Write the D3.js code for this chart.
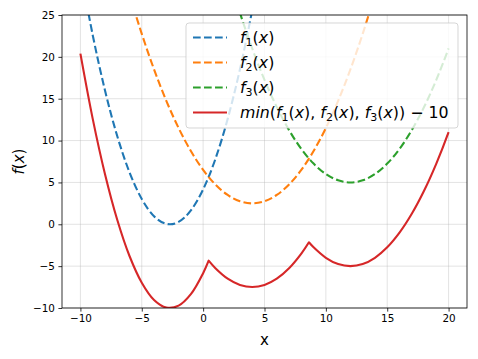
<!DOCTYPE html>
<html>
<head>
<meta charset="utf-8">
<style>
  body { margin: 0; background: #fff; }
  text { font-family: "DejaVu Sans", sans-serif; }
</style>
</head>
<body>
<svg width="478" height="359"></svg>
<script src="https://d3js.org/d3.v7.min.js"></script>
<script>
// values, one per integer x
var xs = [-10, -9, -8, -7, -6, -5, -4, -3, -2, -1, 0, 1, 2, 3, 4, 5, 6, 7, 8, 9,
          10, 11, 12, 13, 14, 15, 16, 17, 18, 19, 20];
var f1 = [30.38, 22.62, 16.01, 10.54, 6.21, 3.02, 0.96, 0.05, 0.28, 1.65, 4.16,
          7.80, 12.59, 18.52, 25.59, 33.80, 43.14, 53.63, 65.26, 78.03, 91.94,
          106.98, 123.17, 140.50, 158.97, 178.58, 199.32, 221.21, 244.24, 268.41, 293.72];
var f2 = [51.5, 44.75, 38.5, 32.75, 27.5, 22.75, 18.5, 14.75, 11.5, 8.75, 6.5,
          4.75, 3.5, 2.75, 2.5, 2.75, 3.5, 4.75, 6.5, 8.75, 11.5,
          14.75, 18.5, 22.75, 27.5, 32.75, 38.5, 44.75, 51.5, 58.75, 66.5];
var f3 = [126, 115.25, 105, 95.25, 86, 77.25, 69, 61.25, 54, 47.25, 41,
          35.25, 30, 25.25, 21, 17.25, 14, 11.25, 9, 7.25, 6,
          5.25, 5, 5.25, 6, 7.25, 9, 11.25, 14, 17.25, 21];
// min(...) - 10, with the two corner points added
var minX = [-10, -9, -8, -7, -6, -5, -4, -3, -2, -1, 0, 0.45, 1, 2, 3, 4, 5, 6, 7, 8, 8.62,
            9, 10, 11, 12, 13, 14, 15, 16, 17, 18, 19, 20];
var minY = [20.38, 12.62, 6.01, 0.54, -3.79, -6.98, -9.04, -9.95, -9.72, -8.35, -5.84, -4.35,
            -5.25, -6.5, -7.25, -7.5, -7.25, -6.5, -5.25, -3.5, -2.15,
            -2.75, -4, -4.75, -5, -4.75, -4, -2.75, -1, 1.25, 4, 7.25, 11];
var corners = [0.45, 8.62];
var xTicks = [-10, -5, 0, 5, 10, 15, 20];
var yTicks = [-10, -5, 0, 5, 10, 15, 20, 25];

var svg = d3.select('svg');
var W = 478, H = 359;
var m = {left: 62, right: 11, top: 15, bottom: 51};

var x = d3.scaleLinear().domain([-11.5, 21.5]).range([m.left, W - m.right]);
var y = d3.scaleLinear().domain([-10, 25]).range([H - m.bottom, m.top]);

svg.append('defs').append('clipPath').attr('id', 'clip')
  .append('rect')
  .attr('x', m.left).attr('y', m.top)
  .attr('width', W - m.left - m.right).attr('height', H - m.top - m.bottom);

// grid
var grid = svg.append('g').attr('stroke', '#b0b0b0').attr('stroke-opacity', 0.35).attr('stroke-width', 1);
grid.selectAll('.gx').data(xTicks).enter().append('line')
  .attr('x1', d => x(d)).attr('x2', d => x(d))
  .attr('y1', m.top).attr('y2', H - m.bottom);
grid.selectAll('.gy').data(yTicks).enter().append('line')
  .attr('y1', d => y(d)).attr('y2', d => y(d))
  .attr('x1', m.left).attr('x2', W - m.right);

var curve = d3.curveCatmullRom.alpha(0);
var line = d3.line().x(d => x(d[0])).y(d => y(d[1])).curve(curve);

var plot = svg.append('g').attr('clip-path', 'url(#clip)');

var series = [
  {vals: f1, color: '#1f77b4'},
  {vals: f2, color: '#ff7f0e'},
  {vals: f3, color: '#2ca02c'}
];
series.forEach(function(s) {
  plot.append('path')
    .attr('d', line(xs.map((v, i) => [v, s.vals[i]])))
    .attr('fill', 'none')
    .attr('stroke', s.color)
    .attr('stroke-width', 2.1)
    .attr('stroke-dasharray', '7.7,3.3');
});

// red curve: split at the corners so they stay sharp
var pts = minX.map((v, i) => [v, minY[i]]);
var segs = [], cur = [];
pts.forEach(function(p) {
  cur.push(p);
  if (corners.indexOf(p[0]) >= 0) { segs.push(cur); cur = [p]; }
});
segs.push(cur);
var redD = segs.map((s, i) => {
  var d = d3.line().x(d => x(d[0])).y(d => y(d[1])).curve(d3.curveCatmullRom)(s);
  return i ? d.replace(/^M/, 'L') : d;
}).join('');
plot.append('path')
  .attr('d', redD)
  .attr('fill', 'none')
  .attr('stroke', '#d62728')
  .attr('stroke-width', 2.1)
  .attr('stroke-linejoin', 'round');

// axes
var xAxis = svg.append('g')
  .attr('transform', 'translate(0,' + (H - m.bottom) + ')')
  .call(d3.axisBottom(x).tickValues(xTicks).tickSize(3.6).tickPadding(3.5)
        .tickFormat(d => String(d).replace('-', '\u2212')));
var yAxis = svg.append('g')
  .attr('transform', 'translate(' + m.left + ',0)')
  .call(d3.axisLeft(y).tickValues(yTicks).tickSize(3.6).tickPadding(3.5)
        .tickFormat(d => String(d).replace('-', '\u2212')));
[xAxis, yAxis].forEach(function(a) {
  a.select('.domain').remove();
  a.selectAll('line').attr('stroke', '#000').attr('stroke-width', 0.8);
  a.selectAll('text').attr('font-size', 10.4).attr('fill', '#000')
    .style('font-family', '"DejaVu Sans", sans-serif');
});

svg.append('rect')
  .attr('x', m.left).attr('y', m.top)
  .attr('width', W - m.left - m.right).attr('height', H - m.top - m.bottom)
  .attr('fill', 'none').attr('stroke', '#000').attr('stroke-width', 0.8);

// mathtext-like labels
function mathText(sel, parts) {
  parts.forEach(function(p) {
    var t = sel.append('tspan').text(p.t);
    if (p.i) t.attr('font-style', 'italic');
    if (p.sub) t.attr('font-size', '70%').attr('dy', '0.25em');
    if (p.after) t.attr('dy', '-0.18em');
  });
}
function fx(n) {
  return [{t: 'f', i: 1}, {t: String(n), sub: 1}, {t: '(', after: 1}, {t: 'x', i: 1}, {t: ')'}];
}

svg.append('text')
  .attr('x', (x(-11.5) + x(21.5)) / 2).attr('y', 345)
  .attr('text-anchor', 'middle').attr('font-size', 15)
  .text('x');

var yl = svg.append('text')
  .attr('transform', 'translate(24,' + ((m.top + H - m.bottom) / 2) + ') rotate(-90)')
  .attr('text-anchor', 'middle').attr('font-size', 15);
mathText(yl, [{t: 'f', i: 1}, {t: '('}, {t: 'x', i: 1}, {t: ')'}]);

// legend
var lg = svg.append('g');
lg.append('rect')
  .attr('x', 186).attr('y', 23).attr('width', 272).attr('height', 105).attr('rx', 3)
  .attr('fill', '#fff').attr('fill-opacity', 0.8)
  .attr('stroke', '#cccccc').attr('stroke-opacity', 0.8).attr('stroke-width', 1);

var legendItems = [
  {parts: fx(1), color: '#1f77b4', dash: true},
  {parts: fx(2), color: '#ff7f0e', dash: true},
  {parts: fx(3), color: '#2ca02c', dash: true},
  {parts: [{t: 'min', i: 1}, {t: '('}].concat(fx(1)).concat([{t: ', '}]).concat(fx(2))
            .concat([{t: ', '}]).concat(fx(3)).concat([{t: ') \u2212 10'}]),
   color: '#d62728', dash: false}
];
legendItems.forEach(function(it, i) {
  var yy = 37.5 + i * 25;
  lg.append('line')
    .attr('x1', 193).attr('x2', 227).attr('y1', yy).attr('y2', yy)
    .attr('stroke', it.color).attr('stroke-width', 2.1)
    .attr('stroke-dasharray', it.dash ? '7.7,3.3' : null);
  var t = lg.append('text').attr('x', 240).attr('y', yy + 5.5).attr('font-size', 15.8);
  mathText(t, it.parts);
});
</script>
</body>
</html>
